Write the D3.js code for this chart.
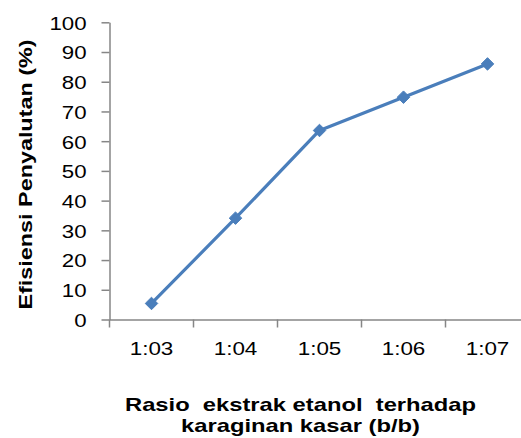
<!DOCTYPE html>
<html><head><meta charset="utf-8">
<script src="https://cdn.jsdelivr.net/npm/d3@7"></script>
<style>html,body{margin:0;padding:0;background:#fff;}</style>
</head><body>
<svg id="c" width="521" height="438"></svg>
<script>
const categories = ["1:03", "1:04", "1:05", "1:06", "1:07"];
const values = [5.4, 34.1, 63.6, 74.8, 86.0];
const yTicks = [0, 10, 20, 30, 40, 50, 60, 70, 80, 90, 100];
const yTitle = "Efisiensi Penyalutan (%)";
const xTitleLines = ["Rasio  ekstrak etanol  terhadap", "karaginan kasar (b/b)"];

const svg = d3.select("#c");
const font = "'Liberation Sans', Arial, sans-serif";
const plotLeft = 109.5, plotRight = 529.5, plotTop = 22.3, plotBottom = 319.5;
const x = d3.scaleBand().domain(categories).range([plotLeft, plotRight]);
const y = d3.scaleLinear().domain([0, 100]).range([plotBottom, plotTop]);
const axisColor = "#868686";

function stretch(sel, factor) {
  sel.each(function () {
    const w = this.getComputedTextLength();
    d3.select(this).attr("textLength", w * factor).attr("lengthAdjust", "spacingAndGlyphs");
  });
}

const yAxis = svg.append("g").attr("transform", `translate(${plotLeft},0)`)
  .call(d3.axisLeft(y).tickValues(yTicks).tickSize(8).tickSizeOuter(0).tickPadding(15));
const xAxis = svg.append("g").attr("transform", `translate(0,${plotBottom})`)
  .call(d3.axisBottom(x).tickSize(0).tickPadding(22));
xAxis.selectAll(".tick line").remove();
const bounds = categories.map(c => x(c)).concat([plotRight]);
xAxis.selectAll(".btick").data(bounds).enter().append("line")
  .attr("x1", d => d).attr("x2", d => d).attr("y1", 0).attr("y2", 8)
  .attr("stroke", axisColor).attr("stroke-width", 1.5);
[yAxis, xAxis].forEach(g => {
  g.selectAll("path.domain").attr("stroke", axisColor).attr("stroke-width", 1.5);
  g.selectAll(".tick line").attr("stroke", axisColor).attr("stroke-width", 1.5);
  g.selectAll("text").attr("font-family", font).attr("font-size", 19).attr("fill", "#000");
});
yAxis.selectAll("text").attr("dy", "0.36em");
stretch(yAxis.selectAll("text"), 1.17);
stretch(xAxis.selectAll("text"), 1.18);

const line = d3.line().x((d, i) => x(categories[i]) + x.bandwidth() / 2).y(d => y(d));
svg.append("path").datum(values).attr("d", line)
  .attr("fill", "none").attr("stroke", "#4a7ebb").attr("stroke-width", 3.2).attr("stroke-linejoin", "round");
svg.selectAll(".m").data(values).enter().append("path")
  .attr("d", d3.symbol().type(d3.symbolDiamond2).size(100))
  .attr("transform", (d, i) => `translate(${x(categories[i]) + x.bandwidth() / 2},${y(d)})`)
  .attr("fill", "#4a7ebb").attr("stroke", "#4a7ebb").attr("stroke-width", 1);

const yt = svg.append("text").attr("transform", "translate(32.3,174.5) rotate(-90)")
  .attr("text-anchor", "middle").attr("font-family", font).attr("font-weight", "bold")
  .attr("font-size", 19).text(yTitle);
yt.attr("textLength", 270).attr("lengthAdjust", "spacingAndGlyphs");

const xt = svg.selectAll(".xt").data(xTitleLines).enter().append("text")
  .attr("x", 300.5).attr("y", (d, i) => 411 + i * 20.7).attr("text-anchor", "middle")
  .attr("font-family", font).attr("font-weight", "bold").attr("font-size", 18.5)
  .style("white-space", "pre").text(d => d);
const firstLen = xt.nodes()[0].getComputedTextLength();
stretch(xt, 351 / firstLen);
</script>
</body></html>
